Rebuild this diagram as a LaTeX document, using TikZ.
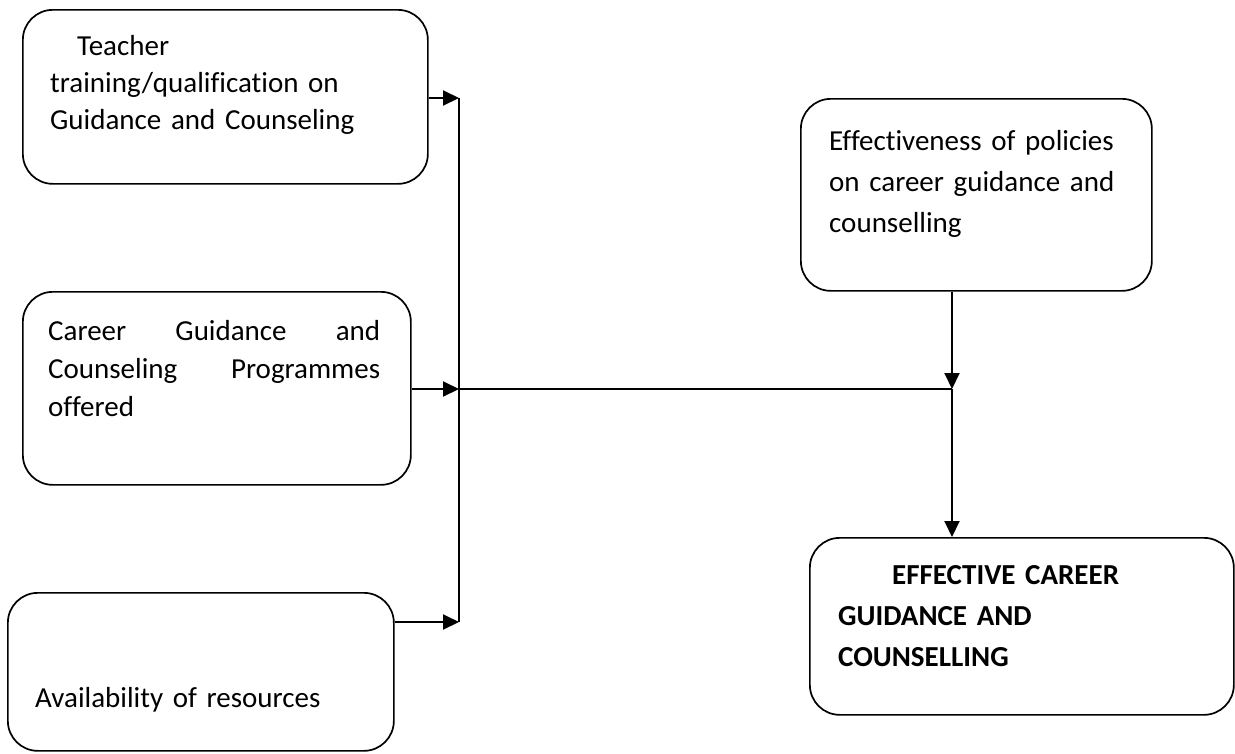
\documentclass[tikz,border=0pt]{standalone}
\usepackage{fontspec}
\setmainfont{Carlito}[Ligatures=CommonOff]
\usetikzlibrary{arrows.meta}
\begin{document}
\begin{tikzpicture}[x=1pt,y=-1pt,
  box/.style={draw, line width=1.7pt, rounded corners=30pt, anchor=north west, inner sep=0pt},
  lbl/.style={anchor=base west, inner sep=0pt, align=left},
  conn/.style={line width=2pt},
  arr/.style={line width=2pt, -{Triangle[length=16pt,width=15pt]}}]
\useasboundingbox (0,0) rectangle (1235,753);
% boxes
\node[box, minimum width=405pt, minimum height=174pt] (b1) at (22,9) {};
\node[box, minimum width=388pt, minimum height=193pt] (b2) at (22,291) {};
\node[box, minimum width=386pt, minimum height=158pt] (b3) at (7,592) {};
\node[box, minimum width=351pt, minimum height=192pt] (b4) at (800,98) {};
\node[box, minimum width=424pt, minimum height=177pt] (b5) at (809,537) {};
% texts
\node[lbl, text width=360pt, font=\fontsize{29}{37}\selectfont] (t1) at (50,55)
  {\hspace*{27pt}Teacher\\training/qualification on\\Guidance and Counseling};
\node[lbl, text width=340pt, font=\fontsize{29}{38}\selectfont] (t2) at (48,340)
  {\makebox[332pt][s]{Career\hfill Guidance\hfill and}\\\makebox[332pt][s]{Counseling\hfill Programmes}\\offered};
\node[lbl, text width=340pt, font=\fontsize{29}{37}\selectfont] (t3) at (35,707)
  {Availability of resources};
\node[lbl, text width=320pt, font=\fontsize{29}{41}\selectfont] (t4) at (829,150)
  {Effectiveness of policies\\on career guidance and\\counselling};
\node[lbl, text width=380pt, font=\fontsize{29}{41}\selectfont\bfseries] (t5) at (838,584)
  {\hspace*{54pt}EFFECTIVE CAREER\\GUIDANCE AND\\COUNSELLING};
% junction points
\coordinate (jt) at (459,98);
\coordinate (jm) at (459,389);
\coordinate (jb) at (459,622);
\coordinate (jr) at (952,389);
% connectors
\draw[conn] (jt) -- (jb);
\draw[conn] (jm) -- (jr);
\draw[arr] (b1.east |- jt) -- (jt);
\draw[arr] (b2.east |- jm) -- (jm);
\draw[arr] (b3.east |- jb) -- (jb);
\draw[arr] (jr |- b4.south) -- (jr);
\draw[arr] (jr) -- (jr |- b5.north);
\end{tikzpicture}
\end{document}
